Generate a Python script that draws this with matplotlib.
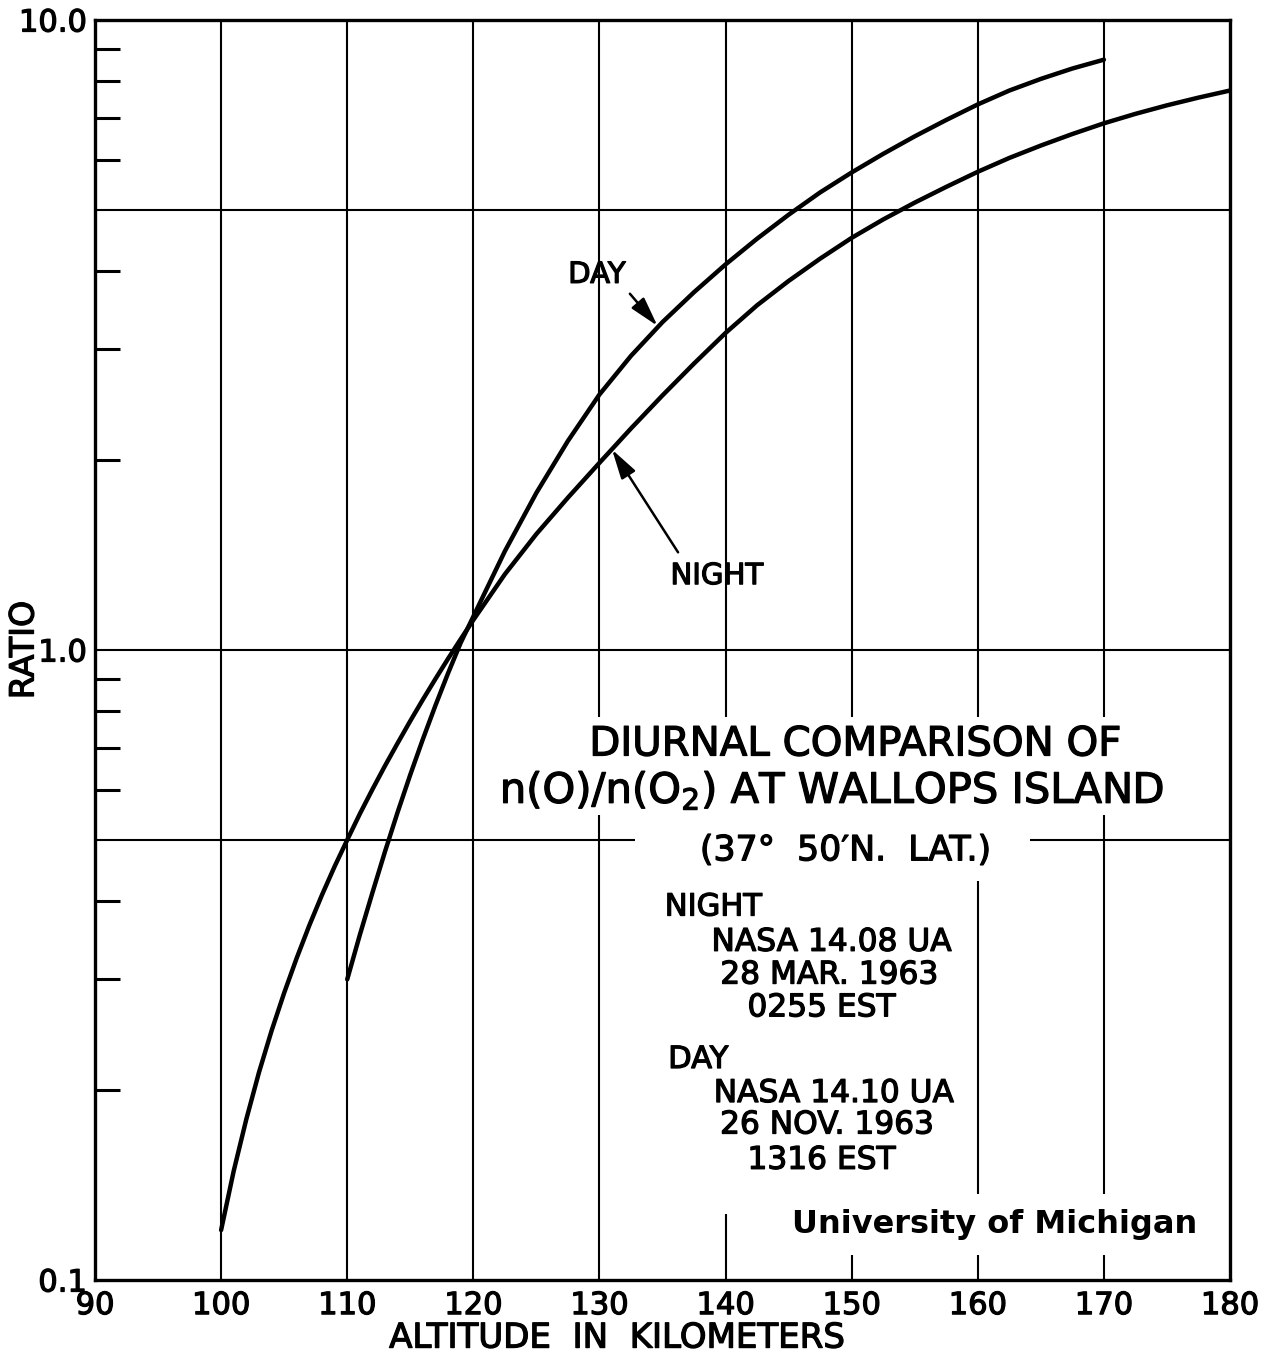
import matplotlib.pyplot as plt
import matplotlib.patheffects as pe
from matplotlib.patches import Rectangle
from matplotlib.text import Text
from matplotlib.ticker import FixedLocator, NullFormatter

plt.rcParams['font.family'] = ['DejaVu Sans']

# n(O)/n(O2) ratio vs altitude (km)
night_alt = [100, 101, 102, 103, 104, 105, 106, 107, 108, 109, 110, 111, 112,
             113, 114, 115, 116, 117, 118, 119, 120, 122.5, 125, 127.5, 130,
             132.5, 135, 137.5, 140, 142.5, 145, 147.5, 150, 152.5, 155, 157.5,
             160, 162.5, 165, 167.5, 170, 172.5, 175, 177.5, 180]
night_ratio = [0.120, 0.149, 0.180, 0.2135, 0.2486, 0.2856, 0.3246, 0.3657,
               0.4086, 0.4533, 0.4995, 0.5494, 0.6009, 0.6552, 0.7116, 0.7716,
               0.8344, 0.900, 0.9689, 1.0406, 1.116, 1.319, 1.528, 1.745, 1.982,
               2.247, 2.536, 2.849, 3.186, 3.525, 3.853, 4.180, 4.510, 4.824,
               5.130, 5.434, 5.742, 6.040, 6.320, 6.592, 6.855, 7.096, 7.321,
               7.530, 7.728]
day_alt = [110, 111, 112, 113, 114, 115, 116, 117, 118, 119, 120, 122.5, 125,
           127.5, 130, 132.5, 135, 137.5, 140, 142.5, 145, 147.5, 150, 152.5,
           155, 157.5, 160, 162.5, 165, 167.5, 170]
day_ratio = [0.300, 0.353, 0.412, 0.479, 0.553, 0.634, 0.722, 0.817, 0.919,
             1.027, 1.130, 1.435, 1.776, 2.147, 2.544, 2.930, 3.315, 3.698,
             4.093, 4.496, 4.908, 5.325, 5.728, 6.131, 6.536, 6.939, 7.345,
             7.727, 8.063, 8.375, 8.650]

alt_ticks = list(range(90, 181, 10))
alt_grid = list(range(100, 171, 10))
ratio_ticks = [0.1, 1.0, 10.0]
ratio_labels = ['0.1', '1.0', '10.0']
ratio_grid = [0.5, 1.0, 5.0]
ratio_minor = [0.2, 0.3, 0.4, 0.6, 0.7, 0.8, 0.9, 2, 3, 4, 6, 7, 8, 9]

fig = plt.figure(figsize=(12.77, 13.57), dpi=100)
ax = fig.add_axes([95 / 1277, 1 - 1280 / 1357, 1135 / 1277, 1260 / 1357])

# grid lines
for x in alt_grid:
    ax.axvline(x, color='black', lw=1.5, zorder=1)
for y in ratio_grid:
    ax.axhline(y, color='black', lw=1.5, zorder=1)

# white areas behind the lettering (grid is broken there in the original)
for (x0, y0, w, h) in [(0.348, 0.369, 0.604, 0.078),
                       (0.476, 0.317, 0.348, 0.053),
                       (0.498, 0.052, 0.268, 0.266),
                       (0.608, 0.020, 0.366, 0.048)]:
    ax.add_patch(Rectangle((x0, y0), w, h, transform=ax.transAxes,
                           facecolor='white', edgecolor='none', zorder=1.5))

ax.plot(night_alt, night_ratio, color='black', lw=3.2, zorder=3,
        solid_capstyle='round', solid_joinstyle='round')
ax.plot(day_alt, day_ratio, color='black', lw=3.2, zorder=3,
        solid_capstyle='round', solid_joinstyle='round')

ax.set_yscale('log')
ax.set_xlim(90, 180)
ax.set_ylim(0.1, 10)
ax.set_xticks(alt_ticks)
ax.set_yticks(ratio_ticks, labels=ratio_labels)
ax.yaxis.set_minor_locator(FixedLocator(ratio_minor))
ax.yaxis.set_minor_formatter(NullFormatter())
ax.tick_params(axis='x', length=0, pad=8, labelsize=22)
ax.tick_params(axis='y', which='major', length=0, pad=6, labelsize=22)
ax.tick_params(axis='y', which='minor', direction='in', length=18, width=2.2)
for sp in ax.spines.values():
    sp.set_linewidth(2.4)

ax.set_xlabel('ALTITUDE  IN  KILOMETERS', fontsize=24.5)
ax.xaxis.set_label_coords(0.46, -0.033)
ax.set_ylabel('RATIO', fontsize=24)
ax.yaxis.set_label_coords(-0.048, 0.5)

# curve labels
arrow = dict(arrowstyle='-|>,head_length=0.9,head_width=0.25', color='black',
             lw=1.8, mutation_scale=20, shrinkB=0)
ax.annotate('DAY', xy=(134.6, 3.27), xytext=(129.8, 3.94), fontsize=21,
            ha='center', va='center', zorder=4,
            arrowprops=dict(arrow, relpos=(1.0, 0.0), shrinkA=2))
ax.annotate('NIGHT', xy=(131, 2.08), xytext=(139.3, 1.31), fontsize=21,
            ha='center', va='center', zorder=4,
            arrowprops=dict(arrow, relpos=(0.15, 1.0), shrinkA=6))

# title block
tkw = dict(transform=ax.transAxes, zorder=4, va='center')
ax.text(0.670, 0.425, 'DIURNAL COMPARISON OF', fontsize=29, ha='center', **tkw)
ax.text(0.649, 0.389, r'n(O)/n(O$_2$) AT WALLOPS ISLAND', fontsize=30,
        ha='center', **tkw)
ax.text(0.661, 0.341, '(37°  50′N.  LAT.)', fontsize=25, ha='center', **tkw)

ax.text(0.502, 0.296, 'NIGHT', fontsize=22, ha='left', **tkw)
ax.text(0.649, 0.268, 'NASA 14.08 UA', fontsize=22.5, ha='center', **tkw)
ax.text(0.647, 0.242, '28 MAR. 1963', fontsize=22.5, ha='center', **tkw)
ax.text(0.640, 0.216, '0255 EST', fontsize=22.5, ha='center', **tkw)

ax.text(0.505, 0.175, 'DAY', fontsize=22, ha='left', **tkw)
ax.text(0.651, 0.148, 'NASA 14.10 UA', fontsize=22.5, ha='center', **tkw)
ax.text(0.645, 0.123, '26 NOV. 1963', fontsize=22.5, ha='center', **tkw)
ax.text(0.640, 0.095, '1316 EST', fontsize=22.5, ha='center', **tkw)

ax.text(0.793, 0.044, 'University of Michigan', fontsize=23,
        fontweight='bold', ha='center', **tkw)

# the lettering in the original is drawn with a heavier pen
for t in fig.findobj(Text):
    if t.get_fontweight() != 'bold':
        t.set_path_effects([pe.withStroke(linewidth=0.9, foreground='black')])

fig.savefig('out.png', dpi=100)
